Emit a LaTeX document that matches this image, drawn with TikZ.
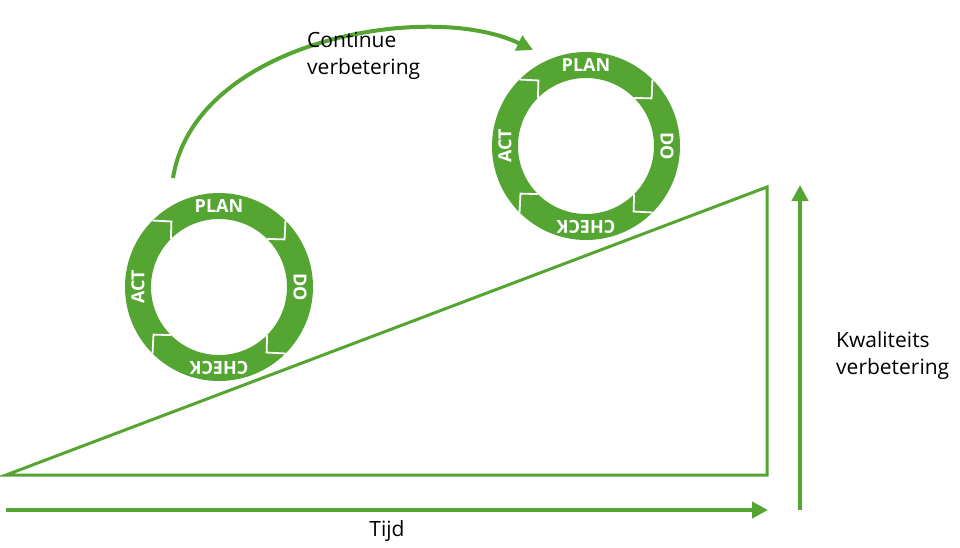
\documentclass[tikz,border=0pt]{standalone}
\usepackage{fontspec}
\setmainfont{Open Sans}
\usetikzlibrary{arrows.meta}
\definecolor{pdcagreen}{RGB}{84,165,50}
\tikzset{
  greenline/.style={draw=pdcagreen,line width=3pt},
  greenarrow/.style={draw=pdcagreen,line width=4pt,-{Triangle[length=16pt,width=16pt]}},
  ringtext/.style={text=white,font=\bfseries\fontsize{18}{18}\selectfont,inner sep=0pt},
  labeltext/.style={font=\fontsize{21}{27}\selectfont,align=left,inner sep=0pt}
}
% one PDCA ring around centre #1
\newcommand{\pdcaring}[2]{%
  \fill[pdcagreen,even odd rule] (#1) circle (94) circle (68);
  \foreach \a in {45,135,225,315}
    \draw[white,line width=1.8pt,line join=miter] ($(#1)+(\a:68)$) -- ($(#1)+(\a+9:81)$) -- ($(#1)+(\a:94)$);
  \node[ringtext] (#2plan) at ($(#1)+(0,-81)$) {PLAN};
  \node[ringtext,rotate=-90] (#2do) at ($(#1)+(81,0)$) {DO};
  \node[ringtext,rotate=180] (#2check) at ($(#1)+(0,81)$) {CHECK};
  \node[ringtext,rotate=90] (#2act) at ($(#1)+(-81,0)$) {ACT};
}
\usetikzlibrary{calc}
\begin{document}
\begin{tikzpicture}[x=1pt,y=-1pt]
\useasboundingbox (0,0) rectangle (960,547);
% slope
\coordinate (left) at (6,475);
\coordinate (corner) at (767,475);
\coordinate (top) at (767,187);
\draw[greenline,line join=miter] (left) -- (corner) -- (top) -- cycle;
% rings
\coordinate (ringa) at (219,287);
\coordinate (ringb) at (586,146);
\pdcaring{ringa}{a}
\pdcaring{ringb}{b}
% arrows
\coordinate (tstart) at (6,510);
\coordinate (tend) at (768,510);
\draw[greenarrow] (tstart) -- (tend);
\coordinate (qstart) at (800,510);
\coordinate (qend) at (800,185);
\draw[greenarrow] (qstart) -- (qend);
\coordinate (cstart) at (173,178);
\coordinate (cend) at (533,50);
\draw[greenarrow] (cstart) .. controls (195,40) and (430,0) .. (cend);
% labels
\node[labeltext,anchor=north west] (cont) at (307,32) {Continue\\verbetering};
\node[labeltext,anchor=north west] (kwal) at (836,331) {Kwaliteits\\verbetering};
\node[labeltext] (tijd) at (387,531) {Tijd};
\end{tikzpicture}
\end{document}
